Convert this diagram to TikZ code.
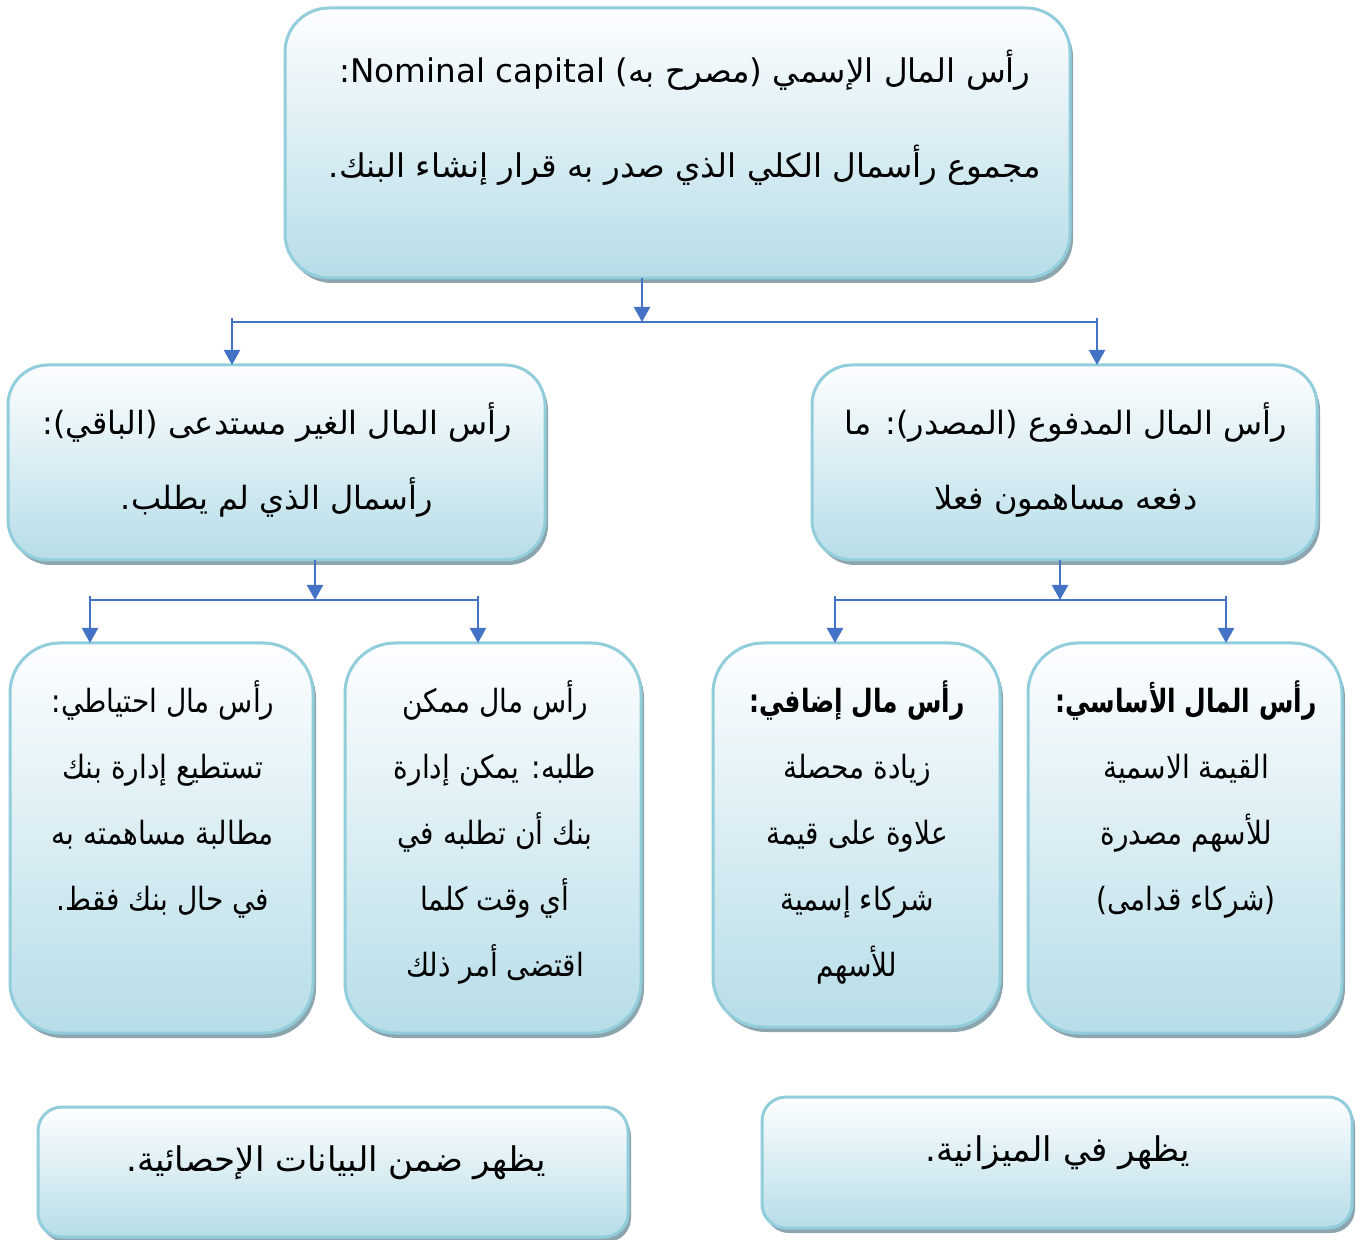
\documentclass[tikz,border=0pt]{standalone}
\usepackage{fontspec}
\usetikzlibrary{arrows.meta,shadows}
\TeXXeTstate=1
\newfontfamily\arabicfont[Script=Arabic]{DejaVu Sans}
\newfontfamily\arabicnarrow[Script=Arabic,FakeStretch=0.875]{DejaVu Sans}
\newfontfamily\arabichead[Script=Arabic,FakeStretch=0.78]{DejaVu Sans Bold}
\definecolor{boxedge}{RGB}{146,205,220}
\definecolor{boxtop}{RGB}{253,254,255}
\definecolor{boxbot}{RGB}{183,221,232}
\definecolor{shade}{RGB}{140,165,175}
\definecolor{linkc}{RGB}{68,114,196}
\tikzset{
  box/.style={draw=boxedge, line width=1.5pt, top color=boxtop, bottom color=boxbot,
    inner sep=0pt, outer sep=0pt,
    drop shadow={shadow xshift=1.5pt, shadow yshift=-2.5pt, fill=shade, opacity=1}},
  txt/.style={align=center, inner sep=0pt, anchor=north},
  bar/.style={draw=linkc, line width=0.7pt},
  arr/.style={draw=linkc, line width=1.1pt, -{Triangle[width=8pt,length=7.5pt]}},
}
% a box given by its corners (px), with a corner radius (pt)
\newcommand\capbox[6]{%
  \node[box, rounded corners=#6, minimum width={(#4-#2)*0.5pt}, minimum height={(#5-#3)*0.5pt}]
    (#1) at ({(#2+#4)/2},{(#3+#5)/2}) {};}
\begin{document}
\begin{tikzpicture}[x=0.5pt,y=-0.5pt]
\fill[white] (0,0) rectangle (1360,1240);
\useasboundingbox (0,0) rectangle (1360,1240);

% boxes
\capbox{top}{285}{8}{1070}{278}{22pt}
\capbox{midL}{8}{365}{545}{560}{20pt}
\capbox{midR}{812}{365}{1317}{560}{20pt}
\capbox{resv}{10}{643}{313}{1033}{25pt}
\capbox{call}{345}{643}{641}{1033}{25pt}
\capbox{extra}{713}{643}{1000}{1027}{25pt}
\capbox{basic}{1028}{643}{1342}{1033}{25pt}
\capbox{stat}{38}{1107}{628}{1237}{12pt}
\capbox{bal}{762}{1097}{1352}{1228}{12pt}

% texts
\node[txt, font=\arabicfont\fontsize{16.3pt}{47.5pt}\selectfont] (topT) at (685,50) {%
  \beginR رأس المال الإسمي (مصرح به) \beginL Nominal capital\endL:\endR\\
  \beginR مجموع رأسمال الكلي الذي صدر به قرار إنشاء البنك.\endR};
\node[txt, font=\arabicfont\fontsize{16pt}{37.5pt}\selectfont] (midLT) at (277,402) {%
  \beginR رأس المال الغير مستدعى (الباقي):\endR\\
  \beginR رأسمال الذي لم يطلب.\endR};
\node[txt, font=\arabicfont\fontsize{16pt}{37.5pt}\selectfont] (midRT) at (1066,402) {%
  \beginR رأس المال المدفوع (المصدر): ما\endR\\
  \beginR دفعه مساهمون فعلا\endR};
\node[txt, font=\arabicnarrow\fontsize{16pt}{33pt}\selectfont] (resvT) at (163,680) {%
  \beginR رأس مال احتياطي:\endR\\
  \beginR تستطيع إدارة بنك\endR\\
  \beginR مطالبة مساهمته به\endR\\
  \beginR في حال بنك فقط.\endR};
\node[txt, font=\arabicnarrow\fontsize{16pt}{33pt}\selectfont] (callT) at (495,680) {%
  \beginR رأس مال ممكن\endR\\
  \beginR طلبه: يمكن إدارة\endR\\
  \beginR بنك أن تطلبه في\endR\\
  \beginR أي وقت كلما\endR\\
  \beginR اقتضى أمر ذلك\endR};
\node[txt, font=\arabicnarrow\fontsize{16pt}{33pt}\selectfont] (extraT) at (857,680) {%
  \beginR{\arabichead رأس مال إضافي:}\endR\\
  \beginR زيادة محصلة\endR\\
  \beginR علاوة على قيمة\endR\\
  \beginR شركاء إسمية\endR\\
  \beginR للأسهم\endR};
\node[txt, font=\arabicnarrow\fontsize{16pt}{33pt}\selectfont] (basicT) at (1186,680) {%
  \beginR{\arabichead رأس المال الأساسي:}\endR\\
  \beginR القيمة الاسمية\endR\\
  \beginR للأسهم مصدرة\endR\\
  \beginR (شركاء قدامى)\endR};
\node[txt, font=\arabicfont\fontsize{17pt}{33pt}\selectfont] (statT) at (336,1145) {\beginR يظهر ضمن البيانات الإحصائية.\endR};
\node[txt, font=\arabicfont\fontsize{17pt}{33pt}\selectfont] (balT) at (1058,1135) {\beginR يظهر في الميزانية.\endR};

% junctions
\coordinate (j0) at (642,322);
\coordinate (j0L) at (232,322);
\coordinate (j0R) at (1097,322);
\coordinate (j1) at (315,600);
\coordinate (j1L) at (90,600);
\coordinate (j1R) at (478,600);
\coordinate (j2) at (1060,600);
\coordinate (j2L) at (835,600);
\coordinate (j2R) at (1226,600);

% connectors
\draw[arr] (j0 |- top.south) -- (j0);
\draw[bar] (j0L) -- (j0R);
\draw[arr] ([yshift=2pt]j0L) -- (j0L |- midL.north);
\draw[arr] ([yshift=2pt]j0R) -- (j0R |- midR.north);

\draw[arr] (j1 |- midL.south) -- (j1);
\draw[bar] (j1L) -- (j1R);
\draw[arr] ([yshift=2pt]j1L) -- (j1L |- resv.north);
\draw[arr] ([yshift=2pt]j1R) -- (j1R |- call.north);

\draw[arr] (j2 |- midR.south) -- (j2);
\draw[bar] (j2L) -- (j2R);
\draw[arr] ([yshift=2pt]j2L) -- (j2L |- extra.north);
\draw[arr] ([yshift=2pt]j2R) -- (j2R |- basic.north);
\end{tikzpicture}
\end{document}
